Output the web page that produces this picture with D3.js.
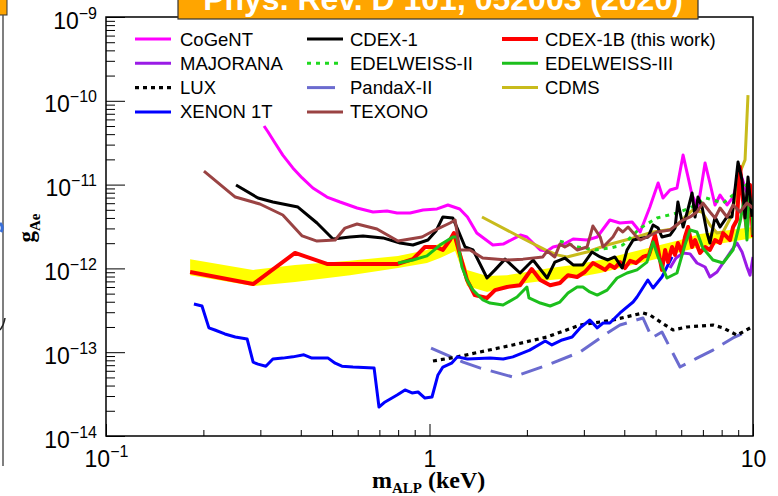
<!DOCTYPE html>
<html>
<head>
<meta charset="utf-8">
<script src="https://cdn.jsdelivr.net/npm/d3@7"></script>
<style>
  html, body { margin: 0; padding: 0; background: #fff; }
  svg { display: block; }
</style>
</head>
<body>
<svg id="chart" width="778" height="496"></svg>
<script>
// Exclusion limits on the axion-like-particle / electron coupling g_Ae
// versus ALP mass (keV). Each series: [mass (keV), g_Ae].

const cogent = [[0.308,5.0e-11],[0.317,4.24e-11],[0.333,3.14e-11],[0.352,2.25e-11],[0.378,1.58e-11],[0.404,1.20e-11],[0.436,9.1e-12],[0.482,7.1e-12],[0.529,6.2e-12],[0.597,5.26e-12],[0.669,4.71e-12],[0.739,4.84e-12],[0.794,4.58e-12],[0.871,4.58e-12],[0.955,4.98e-12],[1.055,5.12e-12],[1.14,5.71e-12],[1.24,5.12e-12],[1.31,4.11e-12],[1.40,2.64e-12],[1.57,1.90e-12],[1.69,1.95e-12],[1.91,2.50e-12],[2.00,2.37e-12],[2.20,1.66e-12],[2.31,1.61e-12],[2.41,1.80e-12],[2.57,1.90e-12],[2.78,2.24e-12],[3.07,2.18e-12],[3.30,2.37e-12],[3.61,3.78e-12],[3.88,3.48e-12],[4.23,3.58e-12],[4.48,2.72e-12],[4.80,5.40e-12],[5.09,1.045e-11],[5.27,6.92e-12],[5.54,8.62e-12],[5.82,9.1e-12],[6.08,2.25e-11],[6.30,1.23e-11],[6.48,7.51e-12],[6.76,5.40e-12],[7.11,1.81e-11],[7.36,1.045e-11],[7.63,5.71e-12],[7.91,7.51e-12],[8.31,5.71e-12],[8.68,7.1e-12],[9.12,1.41e-11],[9.51,8.62e-12],[9.86,6.55e-12]];

const majorana = [[5.54,1.01e-12],[5.78,1.33e-12],[6.08,1.53e-12],[6.39,1.49e-12],[6.71,1.16e-12],[7.11,1.04e-12],[7.36,7.9e-13],[7.74,9.06e-13],[8.08,1.16e-12],[8.61,1.66e-12],[8.92,2.01e-12],[9.25,1.57e-12],[9.58,1.04e-12],[9.79,8.3e-13],[10,1.37e-12]];

const lux = [[1.025,7.85e-14],[1.22,8.8e-14],[1.43,1.005e-13],[1.81,1.22e-13],[2.31,1.52e-13],[2.92,2.11e-13],[3.69,2.42e-13],[4.57,2.94e-13],[4.80,2.78e-13],[5.23,2.23e-13],[5.66,1.84e-13],[6.25,2.0e-13],[7.52,2.11e-13],[8.08,1.95e-13],[8.92,1.60e-13],[9.93,2.0e-13]];

const xenon1t = [[0.187,3.76e-13],[0.198,3.56e-13],[0.208,1.95e-13],[0.217,1.84e-13],[0.233,1.65e-13],[0.251,1.52e-13],[0.273,1.44e-13],[0.285,7.6e-14],[0.295,7.2e-14],[0.312,6.8e-14],[0.328,8.3e-14],[0.352,8.5e-14],[0.378,8.8e-14],[0.409,9.3e-14],[0.433,8.5e-14],[0.486,8.5e-14],[0.511,7.4e-14],[0.536,6.8e-14],[0.580,6.65e-14],[0.674,6.5e-14],[0.698,2.22e-14],[0.729,2.55e-14],[0.794,3.08e-14],[0.840,3.54e-14],[0.883,3.26e-14],[0.922,3.35e-14],[0.968,2.84e-14],[1.018,2.92e-14],[1.062,5.35e-14],[1.10,6.65e-14],[1.17,7.4e-14],[1.22,8.8e-14],[1.31,8.3e-14],[1.54,8.5e-14],[1.69,8.3e-14],[1.81,8.8e-14],[2.04,1.06e-13],[2.28,1.36e-13],[2.39,1.22e-13],[2.57,1.40e-13],[2.76,1.52e-13],[2.92,1.95e-13],[3.13,2.42e-13],[3.30,1.95e-13],[3.44,2.23e-13],[3.61,2.23e-13],[3.88,2.94e-13],[4.26,3.97e-13],[4.38,4.56e-13],[4.73,7.27e-13],[4.91,5.83e-13],[5.23,7.9e-13],[5.62,1.37e-12]];

const cdex1 = [[0.2523,9.89e-12],[0.295,6.92e-12],[0.328,6.2e-12],[0.392,5.40e-12],[0.449,3.48e-12],[0.503,2.24e-12],[0.568,2.37e-12],[0.623,2.44e-12],[0.718,2.31e-12],[0.811,2.01e-12],[0.889,1.90e-12],[0.989,2.18e-12],[1.047,2.79e-12],[1.10,4.11e-12],[1.18,4.0e-12],[1.225,2.87e-12],[1.288,1.80e-12],[1.363,1.66e-12],[1.506,7.68e-13],[1.594,9.6e-13],[1.712,1.29e-12],[1.905,8.81e-13],[2.09,1.26e-12],[2.31,7.68e-13],[2.44,1.19e-12],[2.62,1.33e-12],[2.78,1.10e-12],[2.98,1.10e-12],[3.18,1.57e-12],[3.37,1.37e-12],[3.56,1.26e-12],[3.74,1.37e-12],[3.94,1.01e-12],[4.08,1.66e-12],[4.26,2.18e-12],[4.74,2.37e-12],[4.91,3.30e-12],[5.09,3.03e-12],[5.23,2.37e-12],[5.54,2.50e-12],[5.74,3.03e-12],[5.86,6.2e-12],[6.08,3.12e-12],[6.25,4.58e-12],[6.48,7.94e-12],[6.62,4.11e-12],[6.76,7.1e-12],[6.96,5.40e-12],[7.21,2.64e-12],[7.36,2.01e-12],[7.63,4.11e-12],[7.91,3.12e-12],[8.31,4.11e-12],[8.61,4.11e-12],[8.99,1.86e-11],[9.25,1.13e-11],[9.45,4.0e-12],[9.65,1.23e-11],[9.93,4.11e-12]];

const edelweiss2 = [[2.53,2.12e-12],[2.88,1.80e-12],[3.25,1.66e-12],[3.61,1.75e-12],[3.96,1.90e-12],[4.48,3.03e-12],[5.05,4.0e-12],[5.82,4.58e-12],[6.39,5.26e-12],[6.86,6.2e-12],[7.16,6.92e-12],[8.08,6.03e-12],[8.92,8.16e-12],[9.79,1.07e-11]];

const pandax2 = [[1.011,1.12e-13],[1.27,7.6e-14],[1.43,6.5e-14],[1.81,5.06e-14],[2.31,7.0e-14],[2.92,1.005e-13],[3.54,1.69e-13],[3.88,2.11e-13],[4.57,2.56e-13],[4.87,1.48e-13],[5.23,1.74e-13],[5.95,6.65e-14],[6.71,8.5e-14],[7.52,1.06e-13],[8.67,1.48e-13],[9.79,1.84e-13]];

const texono = [[0.2008,1.45e-11],[0.251,7.1e-12],[0.299,5.87e-12],[0.352,4.34e-12],[0.404,2.44e-12],[0.449,2.12e-12],[0.511,2.18e-12],[0.548,3.03e-12],[0.597,3.39e-12],[0.688,2.95e-12],[0.799,2.12e-12],[0.948,2.37e-12],[1.04,2.87e-12],[1.157,3.48e-12],[1.20,3.78e-12],[1.24,1.66e-12],[1.334,1.66e-12],[1.46,1.33e-12],[1.736,1.26e-12],[1.945,1.29e-12],[2.24,1.37e-12],[2.31,1.61e-12],[2.44,1.37e-12],[2.53,1.95e-12],[2.62,1.80e-12],[2.72,1.95e-12],[2.86,1.66e-12],[3.07,1.80e-12],[3.20,3.21e-12],[3.37,2.37e-12],[3.44,1.80e-12],[3.69,2.37e-12],[3.83,3.03e-12],[3.96,2.72e-12],[4.11,3.12e-12],[4.32,2.50e-12],[4.48,2.18e-12],[4.70,2.37e-12],[5.05,2.72e-12],[5.54,2.87e-12],[6.08,3.78e-12],[6.39,4.11e-12],[6.71,4.71e-12],[7.00,6.03e-12],[7.36,4.71e-12],[7.63,4.0e-12],[7.91,5.26e-12],[8.31,4.11e-12],[8.68,5.71e-12],[9.12,4.71e-12],[9.58,6.03e-12],[10.0,5.26e-12]];

const cdex1b = [[0.182,9.06e-13],[0.285,6.51e-13],[0.384,1.53e-12],[0.482,1.13e-12],[0.799,1.13e-12],[0.889,1.29e-12],[0.968,1.80e-12],[1.044,1.80e-12],[1.10,1.66e-12],[1.157,2.18e-12],[1.19,2.64e-12],[1.306,7.28e-13],[1.38,4.8e-13],[1.506,4.43e-13],[1.594,5.5e-13],[1.736,6.0e-13],[1.905,6.3e-13],[2.07,9.83e-13],[2.20,7.28e-13],[2.36,6.3e-13],[2.53,6.7e-13],[2.68,8.3e-13],[2.86,7.9e-13],[3.02,9.06e-13],[3.20,1.16e-12],[3.37,1.04e-12],[3.49,9.6e-13],[3.61,1.10e-12],[3.74,1.01e-12],[3.88,1.19e-12],[4.02,1.01e-12],[4.17,1.23e-12],[4.35,1.16e-12],[4.57,1.37e-12],[4.77,1.45e-12],[4.98,2.50e-12],[5.09,1.66e-12],[5.23,9.6e-13],[5.35,1.66e-12],[5.46,1.19e-12],[5.62,1.80e-12],[5.74,1.45e-12],[5.86,2.01e-12],[6.03,1.53e-12],[6.16,2.37e-12],[6.30,3.12e-12],[6.48,1.80e-12],[6.62,2.18e-12],[6.86,1.53e-12],[7.11,1.80e-12],[7.36,1.66e-12],[7.63,2.18e-12],[7.91,2.01e-12],[8.08,2.64e-12],[8.49,2.18e-12],[8.68,3.12e-12],[8.92,3.78e-12],[9.12,1.62e-11],[9.31,6.55e-12],[9.58,2.87e-12],[9.79,9.9e-12],[10,2.37e-12]];

const edelweiss3 = [[0.799,1.16e-12],[0.889,1.26e-12],[0.982,1.41e-12],[1.078,1.90e-12],[1.18,2.37e-12],[1.216,2.37e-12],[1.26,1.04e-12],[1.306,7.28e-13],[1.363,5.5e-13],[1.463,4.2e-13],[1.538,3.86e-13],[1.688,3.66e-13],[1.865,4.56e-13],[2.00,6.0e-13],[2.03,4.44e-13],[2.20,3.86e-13],[2.36,3.56e-13],[2.53,3.97e-13],[2.68,5.09e-13],[2.86,6.0e-13],[2.98,6.0e-13],[3.13,5.23e-13],[3.30,4.8e-13],[3.54,5.5e-13],[3.80,7.68e-13],[4.08,8.81e-13],[4.38,9.6e-13],[4.70,1.19e-12],[4.91,2.07e-12],[5.09,1.37e-12],[5.42,7.68e-13],[5.82,8.81e-13],[6.16,1.90e-12],[6.39,2.87e-12],[6.71,2.72e-12],[7.00,1.75e-12],[7.52,1.26e-12],[8.08,1.16e-12],[8.68,1.66e-12],[9.12,3.58e-12],[9.38,6.55e-12],[9.58,2.18e-12],[9.72,7.5e-12],[9.93,5.71e-12],[10,2.50e-12]];

const cdms = [[1.453,4.11e-12],[1.905,2.37e-12],[2.28,1.66e-12],[2.48,1.45e-12],[2.66,1.37e-12],[3.07,1.57e-12],[3.54,1.90e-12],[4.26,2.31e-12],[4.91,2.72e-12],[5.66,2.95e-12],[6.25,4.34e-12],[6.52,4.98e-12],[6.96,4.71e-12],[7.36,3.30e-12],[7.74,2.64e-12],[8.08,2.72e-12],[8.61,4.34e-12],[9.12,1.41e-11],[9.45,1.97e-11],[9.65,1.17e-10]];

// CDEX-1B expected sensitivity band
const bandMass = [0.182,0.285,0.384,0.568,0.799,0.982,1.078,1.20,1.26,1.306,1.506,1.736,2.00,2.36,2.78,3.37,3.88,4.48,5.16,5.95,6.86,8.49,10];
const bandHigh = [1.29e-12,9.6e-13,1.10e-12,1.23e-12,1.41e-12,1.66e-12,2.01e-12,2.44e-12,1.45e-12,9.6e-13,8.1e-13,8.3e-13,9.06e-13,1.01e-12,1.10e-12,1.26e-12,1.45e-12,1.66e-12,1.90e-12,2.18e-12,2.57e-12,2.87e-12,3.12e-12];
const bandLow  = [8.3e-13,6.17e-13,6.88e-13,8.3e-13,1.01e-12,1.16e-12,1.33e-12,1.61e-12,9.6e-13,6.17e-13,5.23e-13,6.17e-13,6.7e-13,7.28e-13,7.68e-13,8.81e-13,1.01e-12,1.16e-12,1.33e-12,1.57e-12,1.80e-12,2.07e-12,2.31e-12];

// Axis ticks
const xMajor = [0.1, 1, 10];
const xTickBase = ["10", "1", "10"];
const xTickExp  = ["\u22121", "", ""];
const yMajor = [1e-14, 1e-13, 1e-12, 1e-11, 1e-10, 1e-9];
const yTickExp = ["\u221214", "\u221213", "\u221212", "\u221211", "\u221210", "\u22129"];

const titleText = "Phys. Rev. D 101, 052003 (2020)";

// Series styling, drawing order = list order
const series = [
  { name: "PandaX-II",  data: pandax2,    color: "#6b6bcf", width: 3,   dash: "22,10" },
  { name: "LUX",        data: lux,        color: "#000000", width: 3.2, dash: "4,4" },
  { name: "XENON 1T",   data: xenon1t,    color: "#0000ff", width: 3 },
  { name: "CoGeNT",     data: cogent,     color: "#ff00ff", width: 3 },
  { name: "MAJORANA",   data: majorana,   color: "#9a1be6", width: 3 },
  { name: "CDMS",       data: cdms,       color: "#c8bb1c", width: 3 },
  { name: "EDELWEISS-II", data: edelweiss2, color: "#1fd91f", width: 3, dash: "4,5" },
  { name: "CDEX-1B (this work)", data: cdex1b, color: "#ff0000", width: 4 },
  { name: "EDELWEISS-III", data: edelweiss3, color: "#1cbf1c", width: 3 },
  { name: "CDEX-1",     data: cdex1,      color: "#000000", width: 3 },
  { name: "TEXONO",     data: texono,     color: "#9a4343", width: 3 }
];

const L = 106, R = 753, T = 17, B = 436;
const svg = d3.select("#chart");

const x = d3.scaleLog().domain([0.1, 10]).range([L, R]);
const y = d3.scaleLog().domain([1e-14, 1e-9]).range([B, T]);

// side strip of the neighbouring panel
svg.append("rect").attr("x", -2).attr("y", -2).attr("width", 9).attr("height", 17)
  .attr("fill", "#ffa500").attr("stroke", "#333").attr("stroke-width", 1);
svg.append("line").attr("x1", 3).attr("x2", 3).attr("y1", 15).attr("y2", 466)
  .attr("stroke", "#555").attr("stroke-width", 1.5);
svg.append("path").attr("d", "M0,223 Q4,227 1,232").attr("fill", "none")
  .attr("stroke", "#3a6fd8").attr("stroke-width", 3);
svg.append("path").attr("d", "M0,330 Q4,325 5,318").attr("fill", "none")
  .attr("stroke", "#222").attr("stroke-width", 1.5);

// clip region
svg.append("clipPath").attr("id", "plotclip")
  .append("rect").attr("x", L).attr("y", T).attr("width", R - L).attr("height", B - T);

const plot = svg.append("g").attr("clip-path", "url(#plotclip)");

// sensitivity band
const bandData = bandMass.map((m, i) => ({ m, lo: bandLow[i], hi: bandHigh[i] }));
plot.append("path")
  .datum(bandData)
  .attr("fill", "#ffff00")
  .attr("d", d3.area().x(d => x(d.m)).y0(d => y(d.lo)).y1(d => y(d.hi)));

const line = d3.line().x(d => x(d[0])).y(d => y(d[1]));
series.forEach(s => {
  plot.append("path")
    .datum(s.data)
    .attr("fill", "none")
    .attr("stroke", s.color)
    .attr("stroke-width", s.width)
    .attr("stroke-linejoin", "round")
    .attr("stroke-dasharray", s.dash || null)
    .attr("d", line);
});

// axes
const tickStroke = g => g.selectAll("line").attr("stroke", "#000").attr("stroke-width", 1);

const yMinor = y.ticks(50).filter(v => !yMajor.some(m => Math.abs(m - v) / m < 1e-6));
svg.append("g").attr("transform", `translate(${L},0)`)
  .call(d3.axisLeft(y).tickValues(yMinor).tickSize(-9).tickSizeOuter(0).tickFormat(() => ""))
  .call(g => g.select(".domain").remove()).call(tickStroke);
const yAx = svg.append("g").attr("transform", `translate(${L},0)`)
  .call(d3.axisLeft(y).tickValues(yMajor).tickSize(-19).tickSizeOuter(0).tickFormat(() => ""))
  .call(g => g.select(".domain").remove()).call(tickStroke);
yAx.selectAll(".tick").each(function (d, i) {
  const t = d3.select(this).append("text")
    .attr("x", -9).attr("y", 11)
    .attr("text-anchor", "end")
    .attr("fill", "#000")
    .style("font-family", "Arial, 'Liberation Sans', sans-serif")
    .style("font-size", "23px");
  t.append("tspan").text("10");
  t.append("tspan").attr("dy", -10).style("font-size", "16px").text(yTickExp[i]);
});

const xMinor = x.ticks(30).filter(v => !xMajor.some(m => Math.abs(m - v) / m < 1e-6));
svg.append("g").attr("transform", `translate(0,${B})`)
  .call(d3.axisBottom(x).tickValues(xMinor).tickSize(-6).tickSizeOuter(0).tickFormat(() => ""))
  .call(g => g.select(".domain").remove()).call(tickStroke);
const xAx = svg.append("g").attr("transform", `translate(0,${B})`)
  .call(d3.axisBottom(x).tickValues(xMajor).tickSize(-12).tickSizeOuter(0).tickFormat(() => ""))
  .call(g => g.select(".domain").remove()).call(tickStroke);
xAx.selectAll(".tick").each(function (d, i) {
  const t = d3.select(this).append("text")
    .attr("x", 0).attr("y", 31)
    .attr("text-anchor", "middle")
    .attr("fill", "#000")
    .style("font-family", "Arial, 'Liberation Sans', sans-serif")
    .style("font-size", "23px");
  t.append("tspan").text(xTickBase[i]);
  if (xTickExp[i]) t.append("tspan").attr("dy", -10).style("font-size", "16px").text(xTickExp[i]);
});

// frame
svg.append("rect").attr("x", L).attr("y", T).attr("width", R - L).attr("height", B - T)
  .attr("fill", "none").attr("stroke", "#000").attr("stroke-width", 1.5);

// axis titles
const serif = "'Times New Roman', 'Liberation Serif', 'DejaVu Serif', serif";
const xt = svg.append("text").attr("x", 372).attr("y", 488)
  .style("font-family", serif).style("font-weight", "bold").style("font-size", "24px");
xt.append("tspan").text("m");
xt.append("tspan").attr("dy", 5).style("font-size", "15px").text("ALP");
xt.append("tspan").attr("dy", -5).text(" (keV)");

const yt = svg.append("text").attr("transform", "translate(34,228) rotate(-90)")
  .attr("text-anchor", "middle")
  .style("font-family", serif).style("font-weight", "bold").style("font-size", "23px");
yt.append("tspan").text("g");
yt.append("tspan").attr("dy", 6).style("font-size", "15px").text("Ae");

// legend
const legendCols = [
  { lx: 135, tx: 180, items: ["CoGeNT", "MAJORANA", "LUX", "XENON 1T"] },
  { lx: 307, tx: 350, items: ["CDEX-1", "EDELWEISS-II", "PandaX-II", "TEXONO"] },
  { lx: 502, tx: 545, items: ["CDEX-1B (this work)", "EDELWEISS-III", "CDMS"] }
];
const legend = svg.append("g");
legendCols.forEach(col => {
  col.items.forEach((name, r) => {
    const s = series.find(d => d.name === name);
    const ly = 39 + r * 24.3;
    const isDash = s.name === "PandaX-II";
    legend.append("line")
      .attr("x1", col.lx).attr("x2", isDash ? col.lx + 28 : col.lx + 36)
      .attr("y1", ly).attr("y2", ly)
      .attr("stroke", s.color).attr("stroke-width", s.width)
      .attr("stroke-dasharray", isDash ? null : (s.dash || null));
    legend.append("text").attr("x", col.tx).attr("y", ly + 6.5)
      .style("font-family", "Arial, 'Liberation Sans', sans-serif")
      .style("font-size", "18.5px").attr("fill", "#000").text(name);
  });
});

// title banner
svg.append("rect").attr("x", 178).attr("y", -4).attr("width", 520).attr("height", 23)
  .attr("fill", "#ffa500").attr("stroke", "#333").attr("stroke-width", 1.2);
svg.append("text").attr("x", 443).attr("y", 10).attr("text-anchor", "middle")
  .style("font-family", "Arial, 'Liberation Sans', sans-serif").style("font-weight", "bold")
  .style("font-size", "32px").attr("fill", "#fff").text(titleText);
</script>
</body>
</html>
